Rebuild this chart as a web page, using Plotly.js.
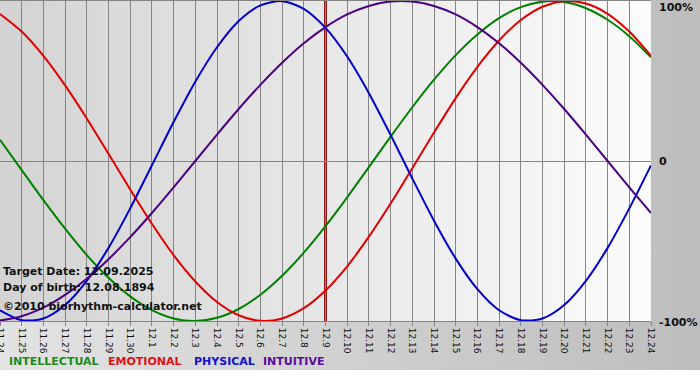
<!DOCTYPE html>
<html>
<head>
<meta charset="utf-8">
<script src="https://cdn.plot.ly/plotly-3.0.1.min.js"></script>
<style>
  html, body { margin: 0; padding: 0; }
  body { width: 700px; height: 380px; background: #ffffff; }
  #wrap { position: relative; width: 700px; height: 380px; }
  #bg { position: absolute; left: 0; top: 0; width: 700px; height: 370px;
        background: linear-gradient(to right, #e3e3e3, #bdbdbd); }
  #chart { position: absolute; left: 0; top: 0; width: 700px; height: 380px; }
</style>
</head>
<body>
<div id="wrap"><div id="bg"></div><div id="chart"></div></div>
<script>
// Day labels (x categories)
const days = ["11.24","11.25","11.26","11.27","11.28","11.29","11.30",
  "12.1","12.2","12.3","12.4","12.5","12.6","12.7","12.8","12.9","12.10",
  "12.11","12.12","12.13","12.14","12.15","12.16","12.17","12.18","12.19",
  "12.20","12.21","12.22","12.23","12.24"];

// Biorhythm values (-1 .. 1)
const intellectual = [0.133,-0.057,-0.245,-0.423,-0.588,-0.730,-0.846,-0.932,-0.984,-1.000,
  -0.980,-0.925,-0.836,-0.717,-0.573,-0.407,-0.227,-0.038,0.152,0.336,
  0.508,0.662,0.791,0.893,0.962,0.996,0.994,0.955,0.883,0.780,0.648];
const emotional = [0.919,0.809,0.657,0.473,0.266,0.045,-0.178,-0.392,-0.588,-0.753,
  -0.881,-0.964,-0.999,-0.984,-0.920,-0.809,-0.658,-0.473,-0.266,-0.045,
  0.178,0.393,0.588,0.753,0.881,0.964,0.999,0.984,0.920,0.809,0.657];
const physical = [-0.933,-0.995,-0.984,-0.900,-0.749,-0.543,-0.296,-0.027,0.244,0.496,
  0.711,0.875,0.973,0.999,0.951,0.832,0.653,0.424,0.163,-0.109,
  -0.373,-0.610,-0.801,-0.933,-0.995,-0.984,-0.900,-0.749,-0.543,-0.296,-0.027];
const intuitive = [-0.997,-0.970,-0.917,-0.837,-0.736,-0.614,-0.476,-0.325,-0.165,0.000,
  0.165,0.325,0.476,0.614,0.736,0.837,0.916,0.969,0.997,0.997,
  0.969,0.916,0.837,0.736,0.614,0.476,0.325,0.165,0.000,-0.165,-0.325];

const seriesNames = ["INTELLECTUAL","EMOTIONAL","PHYSICAL","INTUITIVE"];
const seriesColors = ["#008000","#e00000","#0000c8","#4b0082"];
const legendColors = ["#1a8a1a","#e01010","#1010d0","#5a0a9a"];
const yTickVals = [1, 0, -1];
const yTickText = ["100%","0","-100%"];
const targetDay = "12.9";
const infoLines = ["Target Date: 12.09.2025","Day of birth: 12.08.1894","©2010 biorhythm-calculator.net"];

const allSeries = [intellectual, emotional, physical, intuitive];
const traces = allSeries.map((vals, i) => ({
  type: "scatter", mode: "lines", x: days, y: vals, name: seriesNames[i],
  line: { color: seriesColors[i], width: 2, shape: "spline", smoothing: 0.8 }, hoverinfo: "skip"
}));

const gradSvg = "<svg xmlns='http://www.w3.org/2000/svg' width='100' height='10' preserveAspectRatio='none'>" +
  "<defs><linearGradient id='g' x1='0' y1='0' x2='1' y2='0'><stop offset='0' stop-color='#d3d3d3'/>" +
  "<stop offset='1' stop-color='#fcfcfc'/></linearGradient></defs><rect width='100' height='10' fill='url(#g)'/></svg>";

const annFont = { family: "DejaVu Sans", size: 11, color: "#111111" };
const annotations = [];
const infoY = [0.156, 0.106, 0.044];
infoLines.forEach((t, i) => annotations.push({
  xref: "paper", yref: "paper", x: 0, y: infoY[i], xanchor: "left", yanchor: "middle",
  xshift: 1, text: "<b>" + t + "</b>", showarrow: false, font: annFont
}));
const legX = [7, 106, 192, 261];
seriesNames.forEach((n, i) => annotations.push({
  xref: "paper", yref: "paper", x: legX[i] / 651, y: -0.125, xanchor: "left", yanchor: "middle",
  text: "<b>" + n + "</b>", showarrow: false,
  font: { family: "DejaVu Sans", size: 11, color: legendColors[i] }
}));
const yShift = [-6, 0, -1];
yTickVals.forEach((v, i) => annotations.push({
  xref: "paper", yref: "y", x: 1, y: v, xanchor: "left", yanchor: "middle",
  xshift: 6, yshift: yShift[i], text: "<b>" + yTickText[i] + "</b>", showarrow: false,
  font: { family: "DejaVu Sans", size: 11, color: "#111111" }
}));

const ti = days.indexOf(targetDay);
const layout = {
  width: 700, height: 380,
  margin: { l: 0, r: 49, t: 1, b: 59, pad: 0 },
  paper_bgcolor: "rgba(0,0,0,0)",
  plot_bgcolor: "rgba(0,0,0,0)",
  showlegend: false,
  xaxis: {
    type: "category", range: [0, days.length - 1], showgrid: true,
    gridcolor: "#858585", gridwidth: 1, tickangle: 90,
    ticks: "outside", ticklen: 4, tickcolor: "#858585",
    showline: true, linecolor: "#858585", mirror: true, zeroline: false,
    tickfont: { family: "DejaVu Sans", size: 9, color: "#111111" },
    fixedrange: true
  },
  yaxis: {
    range: [-1, 1], showgrid: false, zeroline: true, zerolinecolor: "#858585",
    zerolinewidth: 1, showticklabels: false, ticks: "", fixedrange: true
  },
  images: [{
    source: "data:image/svg+xml;charset=utf-8," + encodeURIComponent(gradSvg),
    xref: "paper", yref: "paper", x: 0, y: 1, sizex: 1, sizey: 1,
    sizing: "stretch", layer: "below", xanchor: "left", yanchor: "top"
  }],
  shapes: [{
    type: "line", xref: "x", yref: "paper", x0: ti, x1: ti, y0: 0, y1: 1,
    line: { color: "#8b1a1a", width: 3 }, layer: "between"
  }],
  annotations: annotations
};

Plotly.newPlot("chart", traces, layout, { displayModeBar: false, staticPlot: true });
</script>
</body>
</html>
